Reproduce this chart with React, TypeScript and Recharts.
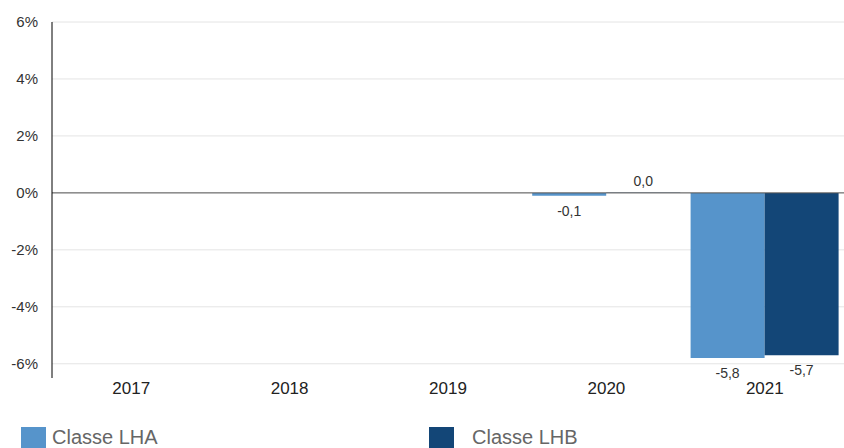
import { Bar, BarChart, CartesianGrid, LabelList, ReferenceLine, XAxis, YAxis } from 'recharts'

const YEARS = ['2017', '2018', '2019', '2020', '2021']
const LHA = [null, null, null, -0.1, -5.8]
const LHB = [null, null, null, 0.0, -5.7]
const Y_TICKS = [-6, -4, -2, 0, 2, 4, 6]

const LIGHT = '#5694cb'
const DARK = '#134677'
const FONT = '"Liberation Sans", Arial, Helvetica, sans-serif'

const data = YEARS.map((year, i) => ({ year, lha: LHA[i], lhb: LHB[i] }))

const fmt = (v: number) => v.toFixed(1).replace('.', ',')

function ValueLabel(props: any) {
  const { x, y, width, height, value } = props
  if (value == null) return null
  const top = Math.min(y, y + height)
  const bottom = Math.max(y, y + height)
  const neg = value < 0
  return (
    <text
      x={x + width / 2}
      y={neg ? bottom + 15 : top - 12}
      textAnchor="middle"
      dominantBaseline="central"
      fontSize={14}
      fill="#333"
      fontFamily={FONT}
    >
      {fmt(value)}
    </text>
  )
}

function LegendItem({ color, label, left, gap }: { color: string; label: string; left: number; gap: number }) {
  return (
    <div style={{ position: 'absolute', left, top: 427, display: 'flex', alignItems: 'flex-start' }}>
      <div style={{ width: 25, height: 21, background: color }} />
      <span style={{ marginLeft: gap, fontSize: 20, lineHeight: '21px', color: '#666' }}>{label}</span>
    </div>
  )
}

export default function App() {
  return (
    <div style={{ position: 'absolute', left: 0, top: 0, width: 844, height: 448, overflow: 'hidden', fontFamily: FONT }}>
      <BarChart
        width={844}
        height={448}
        data={data}
        margin={{ top: 22, right: 0, left: 0, bottom: 40 }}
        barCategoryGap={5}
        barGap={0}
      >
        <CartesianGrid vertical={false} stroke="#e4e4e4" horizontalValues={Y_TICKS} />
        <YAxis
          domain={[-6.5, 6]}
          ticks={Y_TICKS}
          width={52}
          tickFormatter={(v: number) => `${v}%`}
          tick={{ fontSize: 15, fill: '#333', fontFamily: FONT }}
          tickLine={false}
          tickSize={0}
          tickMargin={14}
          axisLine={{ stroke: '#000' }}
          allowDataOverflow
        />
        <XAxis
          dataKey="year"
          height={30}
          tick={{ fontSize: 17, fill: '#222', fontFamily: FONT }}
          tickLine={false}
          tickSize={0}
          tickMargin={4}
          axisLine={false}
        />
        <ReferenceLine y={0} stroke="#555" strokeWidth={1} />
        <Bar dataKey="lha" fill={LIGHT} isAnimationActive={false}>
          <LabelList dataKey="lha" content={<ValueLabel />} />
        </Bar>
        <Bar dataKey="lhb" fill={DARK} minPointSize={0.01} isAnimationActive={false}>
          <LabelList dataKey="lhb" content={<ValueLabel />} />
        </Bar>
      </BarChart>
      <LegendItem color={LIGHT} label="Classe LHA" left={21} gap={6} />
      <LegendItem color={DARK} label="Classe LHB" left={429} gap={18} />
    </div>
  )
}
